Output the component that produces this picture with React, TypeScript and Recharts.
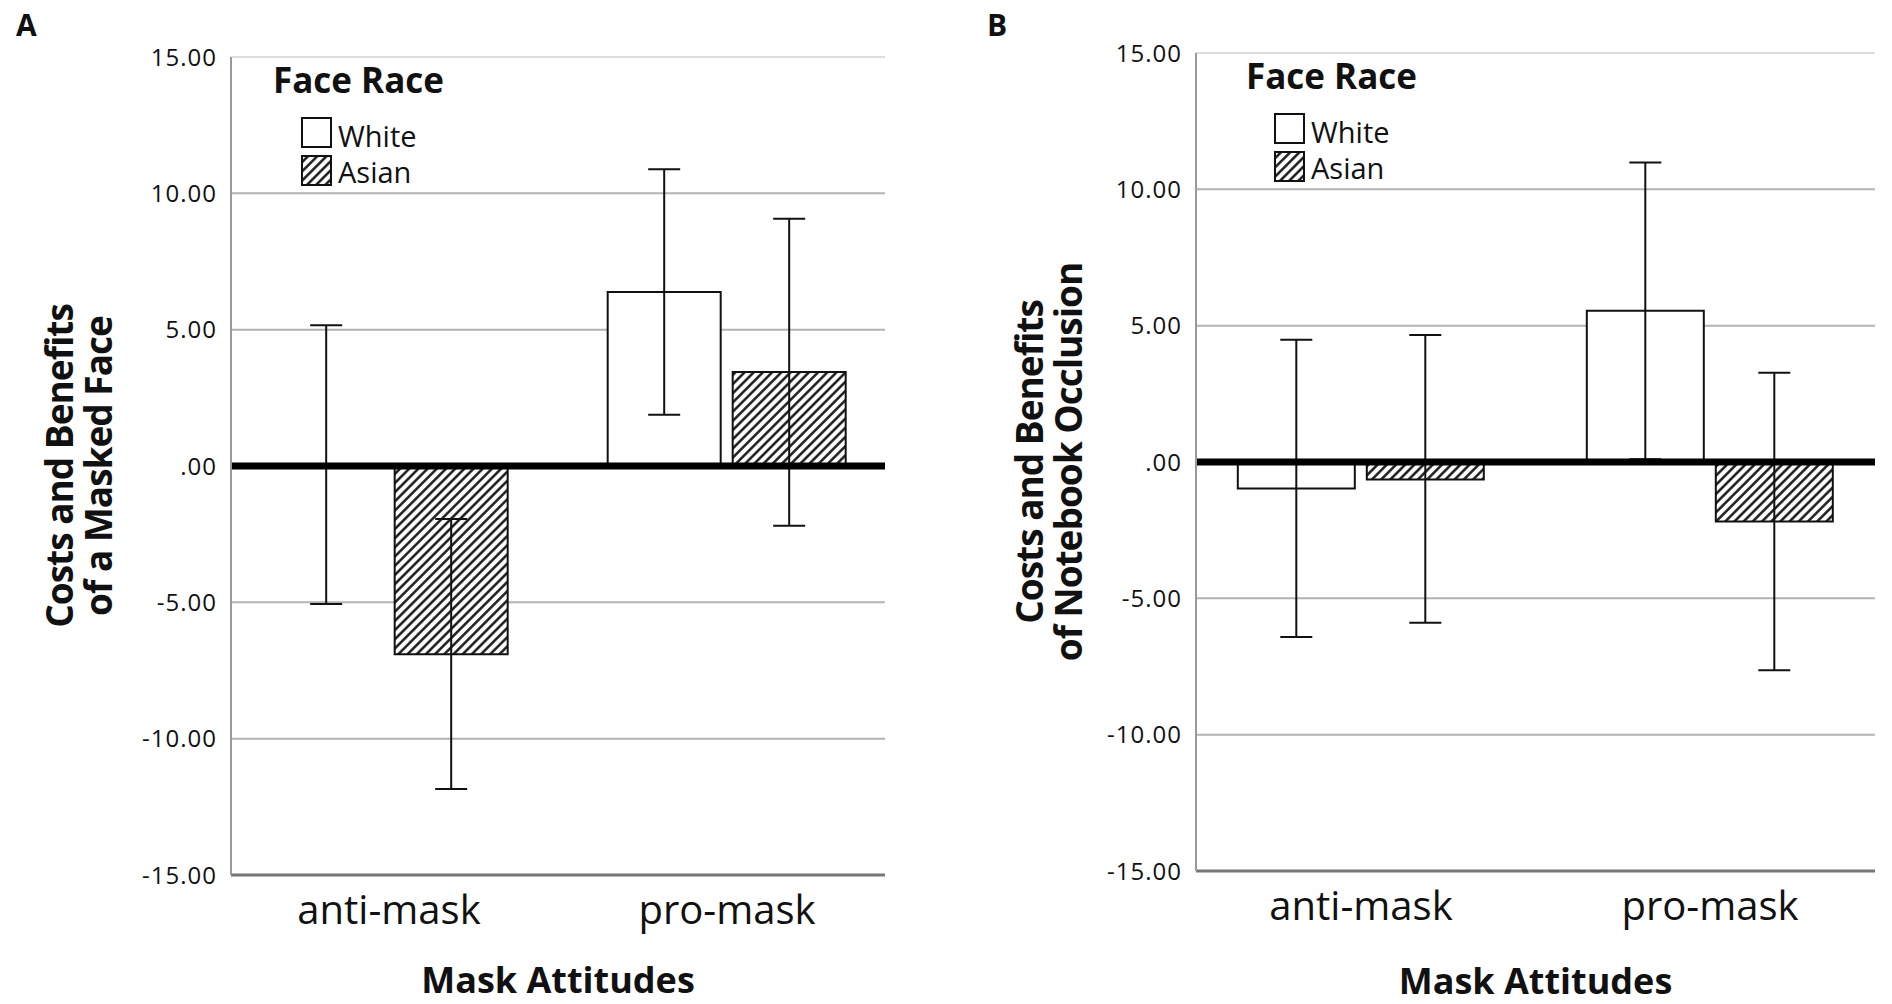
import { Bar, BarChart, CartesianGrid, ErrorBar, Legend, ReferenceLine, XAxis, YAxis } from "recharts";

const categories = ["anti-mask", "pro-mask"];
const seriesNames = ["White", "Asian"];
const yTicks = [-15, -10, -5, 0, 5, 10, 15];

// Panel A: costs and benefits of a masked face (means and 95% CI bounds)
const faceWhiteMean = [0.05, 6.38];
const faceWhiteLow = [-5.06, 1.88];
const faceWhiteHigh = [5.16, 10.88];
const faceAsianMean = [-6.9, 3.45];
const faceAsianLow = [-11.85, -2.19];
const faceAsianHigh = [-1.94, 9.07];

// Panel B: costs and benefits of notebook occlusion
const bookWhiteMean = [-0.97, 5.55];
const bookWhiteLow = [-6.42, 0.1];
const bookWhiteHigh = [4.48, 10.98];
const bookAsianMean = [-0.64, -2.18];
const bookAsianLow = [-5.9, -7.64];
const bookAsianHigh = [4.66, 3.27];

function buildRows(wm: number[], wl: number[], wh: number[], am: number[], al: number[], ah: number[]) {
  // ErrorBar wants [below, above] distances from the mean
  return categories.map((name, i) => ({
    name,
    white: wm[i],
    whiteErr: [wm[i] - wl[i], wh[i] - wm[i]],
    asian: am[i],
    asianErr: [am[i] - al[i], ah[i] - am[i]],
  }));
}

const faceRows = buildRows(faceWhiteMean, faceWhiteLow, faceWhiteHigh, faceAsianMean, faceAsianLow, faceAsianHigh);
const bookRows = buildRows(bookWhiteMean, bookWhiteLow, bookWhiteHigh, bookAsianMean, bookAsianLow, bookAsianHigh);

const formatTick = (v: number) => (v === 0 ? ".00" : v.toFixed(2));

function yTitle(lines: string[], xs: number[]) {
  return ({ viewBox }: any) => {
    const cy = viewBox.y + viewBox.height / 2;
    return (
      <g>
        {lines.map((t, i) => (
          <text
            key={t}
            x={xs[i]}
            y={cy}
            transform={`rotate(-90 ${xs[i]} ${cy})`}
            textAnchor="middle"
            fontSize={37}
            fontWeight={700}
            letterSpacing={-1}
            fill="#111"
          >
            {t}
          </text>
        ))}
      </g>
    );
  };
}

function xTitle(text: string, dy: number) {
  return ({ viewBox }: any) => (
    <text x={viewBox.x + viewBox.width / 2} y={viewBox.y + dy} textAnchor="middle" fontSize={36} fontWeight={700} fill="#111">
      {text}
    </text>
  );
}

function FaceRaceLegend({ payload }: any) {
  // keep the series order (recharts sorts legend items by name otherwise)
  const items = [...(payload ?? [])].sort((a: any, b: any) => seriesNames.indexOf(a.value) - seriesNames.indexOf(b.value));
  return (
    <svg width={240} height={135} style={{ display: "block", overflow: "visible" }}>
      <text x={0} y={35} fontSize={35} fontWeight={700} fill="#111">
        Face Race
      </text>
      {items.map((entry: any, i: number) => (
        <g key={entry.value}>
          <rect x={29} y={60 + i * 38} width={29} height={29} fill={entry.payload?.fill ?? entry.color} stroke="#111" strokeWidth={2} />
          <text x={65} y={89 + i * 36} fontSize={29} fill="#111">
            {entry.value}
          </text>
        </g>
      ))}
    </svg>
  );
}

type PanelProps = {
  id: string;
  letter: string;
  letterX: number;
  rows: ReturnType<typeof buildRows>;
  titleLines: string[];
  titleXs: number[];
  axisWidth: number;
  right: number;
  top: number;
  xAxisHeight: number;
  pad: number;
  legendLeft: number;
  legendTop: number;
  xTitleDy: number;
};

function Panel(p: PanelProps) {
  const hatch = `hatch-${p.id}`;
  return (
    <BarChart
      width={946}
      height={1004}
      data={p.rows}
      margin={{ top: p.top, right: p.right, bottom: 0, left: 0 }}
      barCategoryGap="14.7%"
      barGap={12}
    >
      <defs>
        <pattern id={hatch} patternUnits="userSpaceOnUse" width={6.5} height={6.5} patternTransform="rotate(45)">
          <rect width={6.5} height={6.5} fill="#fff" />
          <line x1={3.25} y1={0} x2={3.25} y2={6.5} stroke="#111" strokeWidth={2.4} />
        </pattern>
      </defs>
      <text x={p.letterX} y={36} fontSize={30} fontWeight={700} fill="#111">
        {p.letter}
      </text>
      <CartesianGrid vertical={false} stroke="#b3b3b3" strokeWidth={2} />
      <XAxis
        dataKey="name"
        height={p.xAxisHeight}
        interval={0}
        padding={{ left: -p.pad, right: -p.pad }}
        tickLine={false}
        tickSize={6}
        tickMargin={15}
        axisLine={{ stroke: "#777", strokeWidth: 3 }}
        tick={{ fill: "#111", fontSize: 40 }}
        label={xTitle("Mask Attitudes", p.xTitleDy)}
      />
      <YAxis
        width={p.axisWidth}
        domain={[-15, 15]}
        ticks={yTicks}
        interval={0}
        tickFormatter={formatTick}
        tickLine={false}
        tickSize={6}
        tickMargin={8}
        axisLine={{ stroke: "#999", strokeWidth: 2 }}
        tick={{ fill: "#111", fontSize: 24, letterSpacing: 1 }}
        label={yTitle(p.titleLines, p.titleXs)}
      />
      <Legend
        layout="horizontal"
        verticalAlign="middle"
        align="center"
        content={FaceRaceLegend}
        wrapperStyle={{ position: "absolute", left: p.legendLeft, top: p.legendTop, width: "auto", height: "auto" }}
      />
      <Bar dataKey="white" name="White" fill="#fff" stroke="#111" strokeWidth={2} isAnimationActive={false}>
        <ErrorBar dataKey="whiteErr" width={16} stroke="#111" strokeWidth={2} isAnimationActive={false} />
      </Bar>
      <Bar dataKey="asian" name="Asian" fill={`url(#${hatch})`} stroke="#111" strokeWidth={2} isAnimationActive={false}>
        <ErrorBar dataKey="asianErr" width={16} stroke="#111" strokeWidth={2} isAnimationActive={false} />
      </Bar>
      <ReferenceLine y={15} stroke="#dedede" strokeWidth={2} />
      <ReferenceLine y={0} stroke="#000" strokeWidth={7} />
    </BarChart>
  );
}

export default function App() {
  return (
    <div
      style={{
        position: "absolute",
        left: 0,
        top: 0,
        width: 1892,
        height: 1004,
        background: "#fff",
        fontFamily: '"Open Sans", sans-serif',
      }}
    >
      <div style={{ position: "absolute", left: 0, top: 0 }}>
        <Panel
          id="a"
          letter="A"
          letterX={16}
          rows={faceRows}
          titleLines={["Costs and Benefits", "of a Masked Face"]}
          titleXs={[73, 112]}
          axisWidth={231}
          right={61}
          top={57}
          xAxisHeight={129}
          pad={11}
          legendLeft={273}
          legendTop={58}
          xTitleDy={118}
        />
      </div>
      <div style={{ position: "absolute", left: 946, top: 0 }}>
        <Panel
          id="b"
          letter="B"
          letterX={41}
          rows={bookRows}
          titleLines={["Costs and Benefits", "of Notebook Occlusion"]}
          titleXs={[97, 136]}
          axisWidth={250}
          right={17}
          top={53}
          xAxisHeight={133}
          pad={9.5}
          legendLeft={300}
          legendTop={54}
          xTitleDy={123}
        />
      </div>
    </div>
  );
}
